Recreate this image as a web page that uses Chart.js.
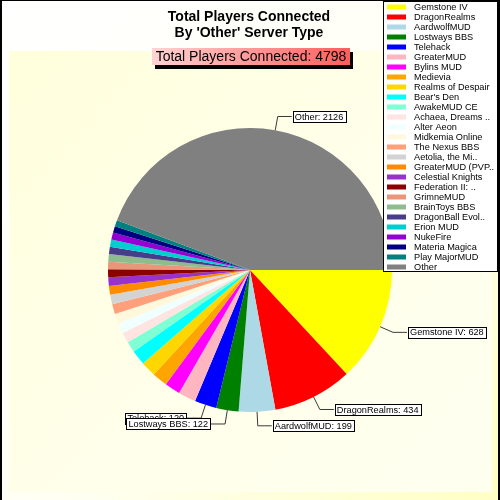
<!DOCTYPE html>
<html>
<head>
<meta charset="utf-8">
<script src="https://cdn.jsdelivr.net/npm/chart.js@4.4.0/dist/chart.umd.min.js"></script>
<style>
html,body{margin:0;padding:0;background:#fff;overflow:hidden}
#wrap{width:500px;height:500px;position:relative}
canvas{display:block}
</style>
</head>
<body>
<div id="wrap"><canvas id="c" width="500" height="500"></canvas></div>
<script>
// ---- Data ----
const categories = [
  'Gemstone IV','DragonRealms','AardwolfMUD','Lostways BBS','Telehack',
  'GreaterMUD','Bylins MUD','Medievia','Realms of Despair',"Bear's Den",
  'AwakeMUD CE','Achaea, Dreams ..','Alter Aeon','Midkemia Online','The Nexus BBS',
  'Aetolia, the Mi..','GreaterMUD (PVP..','Celestial Knights','Federation II: ..','GrimneMUD',
  'BrainToys BBS','DragonBall Evol..','Erion MUD','NukeFire','Materia Magica',
  'Play MajorMUD','Other'
];
const players = [
  628, 434, 199, 122, 120,
  96, 85, 84, 83, 82,
  58, 57, 56, 55, 54,
  52, 48, 47, 43, 41,
  41, 40, 39, 39, 35,
  34, 2126
];
const sliceColors = [
  '#FFFF00','#FF0000','#ADD8E6','#008000','#0000FF',
  '#FFB6C1','#FF00FF','#FFA500','#FFD700','#00FFFF',
  '#7FFFD4','#FFE4E1','#F0FFFF','#FFF8DC','#FFA07A',
  '#D3D3D3','#FF8C00','#9932CC','#8B0000','#E9967A',
  '#8FBC8F','#483D8B','#00CED1','#9400D3','#000080',
  '#008080','#808080'
];
const labelledCategories = ['Gemstone IV','DragonRealms','AardwolfMUD','Lostways BBS','Telehack','Other'];
const titleLines = ['Total Players Connected', "By 'Other' Server Type"];
const totalLabel = 'Total Players Connected: ';
const totalPlayers = 4798;

const FONT = "'Liberation Sans', Arial, sans-serif";

const backgroundPlugin = {
  id: 'bg',
  beforeDraw(chart) {
    const ctx = chart.ctx;
    ctx.save();
    let g = ctx.createLinearGradient(0, 0, 500, 500);
    g.addColorStop(0, '#ffffff');
    g.addColorStop(0.55, '#fffff4');
    g.addColorStop(1, '#ffffc4');
    ctx.fillStyle = g;
    ctx.fillRect(0, 0, 500, 500);
    g = ctx.createLinearGradient(9, 51, 492, 492);
    g.addColorStop(0, '#ffffdc');
    g.addColorStop(0.5, '#ffffea');
    g.addColorStop(1, '#fffff0');
    ctx.fillStyle = g;
    ctx.fillRect(9, 51, 483, 441);
    ctx.fillStyle = '#000';
    ctx.fillRect(0, 0, 2, 500);
    ctx.fillRect(0, 0, 500, 1);
    ctx.fillRect(498, 0, 2, 500);
    ctx.restore();
  }
};

const overlayPlugin = {
  id: 'overlay',
  afterDraw(chart) {
    const ctx = chart.ctx;
    ctx.save();
    // Title
    ctx.fillStyle = '#000';
    ctx.textAlign = 'center';
    ctx.textBaseline = 'middle';
    ctx.font = 'bold 14px ' + FONT;
    ctx.fillText(titleLines[0], 249, 17);
    ctx.fillText(titleLines[1], 249, 33);
    // Subtitle box
    ctx.fillStyle = '#000';
    ctx.fillRect(155, 52, 198, 17);
    const sg = ctx.createLinearGradient(152, 48, 350, 65);
    sg.addColorStop(0, '#ffd4d4');
    sg.addColorStop(1, '#ff5c5c');
    ctx.fillStyle = sg;
    ctx.fillRect(152, 48, 198, 17);
    ctx.fillStyle = '#000';
    ctx.font = '14px ' + FONT;
    ctx.fillText(totalLabel + totalPlayers, 251, 57);

    // Data labels
    const meta = chart.getDatasetMeta(0);
    ctx.font = '9.2px ' + FONT;
    ctx.textBaseline = 'middle';
    const idxs = labelledCategories.map(n => categories.indexOf(n)).reverse();
    for (const i of idxs) {
      const arc = meta.data[i];
      const p = arc.getProps(['x','y','startAngle','endAngle','outerRadius'], true);
      const mid = (p.startAngle + p.endAngle) / 2;
      const R = p.outerRadius;
      const x0 = p.x + Math.cos(mid) * R, y0 = p.y + Math.sin(mid) * R;
      const x1 = p.x + Math.cos(mid) * (R + 14), y1 = p.y + Math.sin(mid) * (R + 14);
      const dir = Math.cos(mid) >= 0 ? 1 : -1;
      const x2 = x1 + dir * 14;
      ctx.strokeStyle = '#3a3a3a';
      ctx.lineWidth = 1;
      ctx.beginPath();
      ctx.moveTo(x0, y0); ctx.lineTo(x1, y1); ctx.lineTo(x2, y1);
      ctx.stroke();
      const txt = categories[i] + ': ' + players[i];
      const w = ctx.measureText(txt).width;
      const bw = w + 4, bh = 11;
      const bx = dir > 0 ? x2 + 1 : x2 - 1 - bw;
      const by = y1 - bh / 2;
      ctx.fillStyle = '#fff';
      ctx.fillRect(bx, by, bw, bh);
      ctx.strokeStyle = '#000';
      ctx.strokeRect(Math.round(bx) + 0.5, Math.round(by) + 0.5, Math.round(bw), bh);
      ctx.fillStyle = '#000';
      ctx.textAlign = 'left';
      ctx.fillText(txt, bx + 2, y1 + 0.5);
    }

    // Legend
    ctx.fillStyle = '#fff';
    ctx.fillRect(383, 1, 115, 271);
    ctx.strokeStyle = '#000';
    ctx.lineWidth = 1;
    ctx.strokeRect(383.5, 1.5, 114, 270);
    ctx.font = '9.2px ' + FONT;
    ctx.textAlign = 'left';
    ctx.textBaseline = 'middle';
    categories.forEach((name, i) => {
      const cy = 7 + i * 10;
      ctx.fillStyle = sliceColors[i];
      ctx.fillRect(387, cy - 2.5, 19, 5);
      ctx.fillStyle = '#000';
      ctx.fillText(name, 414, cy + 0.5);
    });
    ctx.restore();
  }
};

new Chart(document.getElementById('c'), {
  type: 'pie',
  data: {
    labels: categories,
    datasets: [{
      data: players,
      backgroundColor: sliceColors,
      borderWidth: 0
    }]
  },
  options: {
    responsive: false,
    animation: false,
    devicePixelRatio: 1,
    rotation: 90,
    layout: { padding: { left: 108, right: 108, top: 128, bottom: 88 } },
    plugins: {
      legend: { display: false },
      title: { display: false },
      tooltip: { enabled: false }
    }
  },
  plugins: [backgroundPlugin, overlayPlugin]
});
</script>
</body>
</html>
